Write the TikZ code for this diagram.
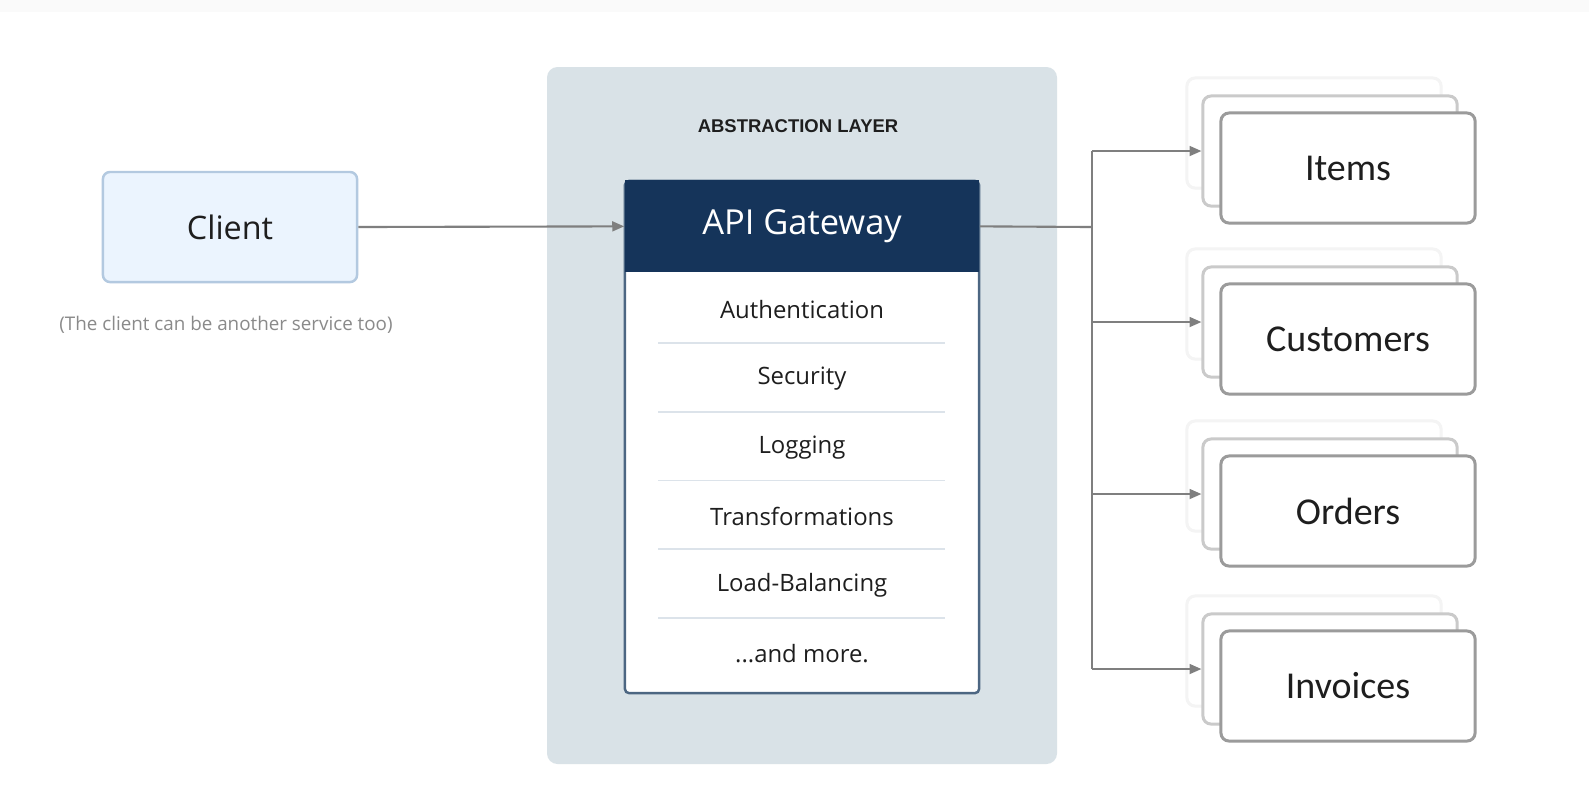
\documentclass[tikz,border=0pt]{standalone}
\usepackage{fontspec}
\setmainfont{Open Sans}
\newfontfamily\svcfont{Carlito}
\newfontfamily\capsfont{Liberation Sans}
\usepackage{tikz}
\usetikzlibrary{arrows.meta}
\definecolor{ink}{HTML}{1E1E1E}
\definecolor{note}{HTML}{8A8A8A}
\definecolor{band}{HTML}{FAFAFA}
\definecolor{panel}{HTML}{D9E2E7}
\definecolor{navy}{HTML}{15345A}
\definecolor{gwedge}{HTML}{4C6682}
\definecolor{rule}{HTML}{DCE3EA}
\definecolor{clientbg}{HTML}{EBF4FE}
\definecolor{clientedge}{HTML}{B3C9E0}
\definecolor{wire}{HTML}{7F7F7F}
\definecolor{svcedge}{HTML}{9B9B9B}
\definecolor{svcmid}{HTML}{CACACA}
\definecolor{svcback}{HTML}{F4F4F4}
\tikzset{
  wire/.style={draw=wire, line width=0.6pt},
  arr/.style={wire, -{Triangle[length=3.4pt,width=2.8pt]}},
  clientbox/.style={draw=clientedge, fill=clientbg, line width=0.7pt, rounded corners=2pt,
    minimum width=2.54cm, minimum height=1.10cm, text=ink, font=\fontsize{9.2}{11}\selectfont},
  note/.style={text=note, font=\fontsize{5.35}{6.5}\selectfont},
  layer/.style={text=ink, font=\capsfont\bfseries\fontsize{5.25}{6.5}\selectfont},
  gwframe/.style={draw=gwedge, fill=white, line width=0.7pt, rounded corners=1.2pt,
    minimum width=3.54cm, minimum height=5.12cm},
  gwhead/.style={fill=navy, minimum width=3.54cm, minimum height=0.92cm, text=white,
    font=\fontsize{9.8}{12}\selectfont},
  row/.style={text=ink, font=\fontsize{6.8}{8}\selectfont},
  sep/.style={draw=rule, line width=0.5pt},
  svc/.style={draw=svcedge, fill=white, line width=0.85pt, rounded corners=2.3pt,
    minimum width=2.54cm, minimum height=1.10cm, text=ink, font=\svcfont\fontsize{10.8}{13}\selectfont},
  svcmid/.style={svc, draw=svcmid},
  svcback/.style={svc, draw=svcback}
}
\begin{document}
\begin{tikzpicture}[x=0.01cm, y=-0.01cm]
  \useasboundingbox (0,0) rectangle (1589,793);
  \fill[white] (0,0) rectangle (1589,793);
  \fill[band] (0,0) rectangle (1589,12);

  \node[clientbox] (client) at (230,227) {Client};
  \node[note] (clientnote) at (226,325) {(The client can be another service too)};

  \fill[panel, rounded corners=3pt] (547,67) rectangle (1057,764);
  \node[layer] (layer) at (798,126) {ABSTRACTION LAYER};

  \node[gwframe] (gwbox) at (802,437) {};
  \node[gwhead, anchor=north] (gw) at (gwbox.north) {API Gateway};
  \foreach \txt [count=\i] in {Authentication, Security, Logging, Transformations, Load-Balancing, {.{}.{}.and more.}}
    \node[row] (row\i) at (802,{310+68.7*(\i-1)}) {\txt};
  \foreach \i in {0,1,2,3,4}
    \draw[sep] (658,{343+68.7*\i}) -- (945,{343+68.7*\i});

  \draw[arr] (client.east) -- (gw.west);

  \coordinate (bus) at (1092,227);
  \draw[wire] (gw.east) -- (bus);
  \foreach \name/\label/\y in {items/Items/168, customers/Customers/339, orders/Orders/511, invoices/Invoices/686} {
    \node[svcback] (\name-back) at (1314,{\y-35}) {};
    \node[svcmid] (\name-mid) at (1330,{\y-17}) {};
    \node[svc] (\name) at (1348,\y) {\label};
    \draw[arr] (bus |- \name-mid.west) -- (\name-mid.west);
  }
  \draw[wire] (bus |- items-mid.west) -- (bus |- invoices-mid.west);
\end{tikzpicture}
\end{document}
